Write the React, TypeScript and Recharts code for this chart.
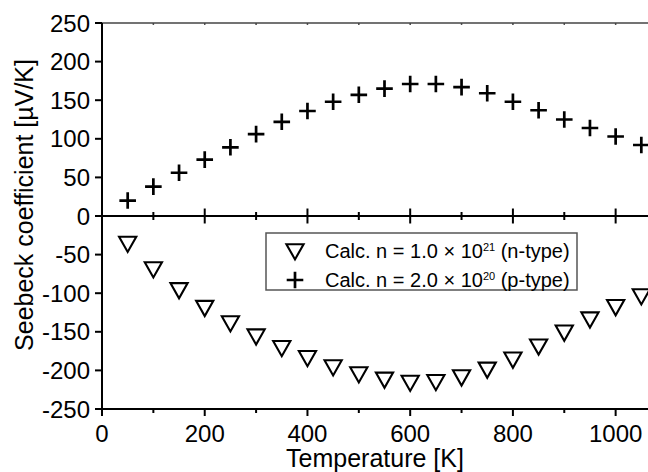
import React from 'react';
import { ScatterChart, Scatter, XAxis, YAxis, ReferenceLine } from 'recharts';

const temperatures = [50, 100, 150, 200, 250, 300, 350, 400, 450, 500, 550, 600, 650, 700, 750, 800, 850, 900, 950, 1000, 1050];
const nTypeSeebeck = [-37, -70, -97, -120, -140, -157, -172, -185, -197, -206, -213, -217, -216, -210, -200, -187, -170, -152, -135, -119, -105];
const pTypeSeebeck = [20, 38, 56, 73, 89, 106, 122, 136, 148, 157, 165, 171, 171, 167, 159, 148, 137, 125, 114, 103, 92];

const xTicks = [0, 100, 200, 300, 400, 500, 600, 700, 800, 900, 1000];
const xLabelStep = 200;
const yTicks = [-250, -200, -150, -100, -50, 0, 50, 100, 150, 200, 250];
const xDomain = [0, 1063];
const yDomain = [-250, 250];

const seriesBase = ['Calc. n = 1.0 × 10', 'Calc. n = 2.0 × 10'];
const seriesExp = ['21', '20'];
const seriesSuffix = [' (n-type)', ' (p-type)'];

const xTitle = 'Temperature [K]';
const yTitle = 'Seebeck coefficient [µV/K]';

const FONT = '"Liberation Sans", Arial, sans-serif';

const nData = temperatures.map((t, i) => ({ x: t, y: nTypeSeebeck[i] }));
const pData = temperatures.map((t, i) => ({ x: t, y: pTypeSeebeck[i] }));

const Triangle = ({ cx, cy }: any) => (
  <polygon
    points={`${cx - 8.6},${cy - 7.8} ${cx + 8.6},${cy - 7.8} ${cx},${cy + 7.4}`}
    fill="#fff"
    stroke="#000"
    strokeWidth={2.1}
  />
);

const Plus = ({ cx, cy }: any) => (
  <path d={`M${cx - 8.3},${cy} H${cx + 8.3} M${cx},${cy - 8.3} V${cy + 8.3}`} stroke="#000" strokeWidth={2.7} fill="none" />
);

const XTick = (props: any) => {
  const { x, y, payload } = props;
  const v = payload.value;
  const major = v % xLabelStep === 0;
  return (
    <g>
      <line x1={x} x2={x} y1={y} y2={y + (major ? 7 : 4)} stroke="#000" strokeWidth={2} />
      {major && (
        <text x={x} y={y + 16} dy="0.71em" textAnchor="middle" fontSize={24} fill="#000" fontFamily={FONT}>
          {v}
        </text>
      )}
    </g>
  );
};

const YTitle = (props: any) => {
  const vb = props.viewBox || { x: 0, y: 23, width: 102, height: 386 };
  const x = vb.x + 33;
  const y = vb.y + vb.height / 2 - 11;
  return (
    <text x={x} y={y} transform={`rotate(-90 ${x} ${y})`} textAnchor="middle" fontSize={25} fill="#000" fontFamily={FONT}>
      {yTitle}
    </text>
  );
};

const LegendBox = () => (
  <svg width={313} height={60} style={{ position: 'absolute', left: 265, top: 232 }}>
    <rect x={1} y={1} width={311} height={57} fill="#fff" stroke="#555" strokeWidth={1.5} />
    <Triangle cx={30} cy={20} />
    <Plus cx={30} cy={48} />
    {[0, 1].map((i) => (
      <text key={i} x={60} y={i === 0 ? 26.3 : 54.7} fontSize={20} fill="#000" fontFamily={FONT}>
        {seriesBase[i]}
        <tspan dy={-7} fontSize={11}>{seriesExp[i]}</tspan>
        <tspan dy={7} fontSize={20}>{seriesSuffix[i]}</tspan>
      </text>
    ))}
  </svg>
);

export default function App() {
  return (
    <div style={{ position: 'absolute', left: 0, top: 0, width: 648, height: 472, fontFamily: FONT, background: '#fff' }}>
      <ScatterChart width={648} height={472} margin={{ top: 23, right: 0, bottom: 0, left: 0 }}>
        <XAxis
          type="number"
          dataKey="x"
          domain={xDomain}
          allowDataOverflow
          ticks={xTicks}
          interval={0}
          height={63}
          tickSize={0}
          tickMargin={0}
          tickLine={false}
          tick={<XTick />}
          axisLine={{ stroke: '#000', strokeWidth: 2 }}
          label={{ value: xTitle, position: 'insideBottom', offset: 5, fontSize: 25, fill: '#000', fontFamily: FONT }}
        />
        <YAxis
          type="number"
          dataKey="y"
          domain={yDomain}
          allowDataOverflow
          ticks={yTicks}
          interval={0}
          width={102}
          tickSize={7}
          tickMargin={5}
          tickLine={{ stroke: '#000', strokeWidth: 2 }}
          axisLine={{ stroke: '#000', strokeWidth: 2 }}
          tick={{ fill: '#000', fontSize: 24, fontFamily: FONT }}
          label={<YTitle />}
        />
        <ReferenceLine y={250} stroke="#444" strokeWidth={1.5} />
        {xTicks.filter((t) => t > 0).map((t) => (
          <ReferenceLine key={'top' + t} segment={[{ x: t, y: 250 }, { x: t, y: 247.5 }]} stroke="#444" strokeWidth={1.5} />
        ))}
        <ReferenceLine y={0} stroke="#000" strokeWidth={2} />
        {xTicks.filter((t) => t > 0).map((t) => {
          const h = t % xLabelStep === 0 ? 9.7 : 5.2;
          return (
            <ReferenceLine key={'zero' + t} segment={[{ x: t, y: -h }, { x: t, y: h }]} stroke="#000" strokeWidth={2} />
          );
        })}
        <Scatter name="n-type" data={nData} shape={<Triangle />} isAnimationActive={false} />
        <Scatter name="p-type" data={pData} shape={<Plus />} isAnimationActive={false} />
      </ScatterChart>
      <LegendBox />
    </div>
  );
}
